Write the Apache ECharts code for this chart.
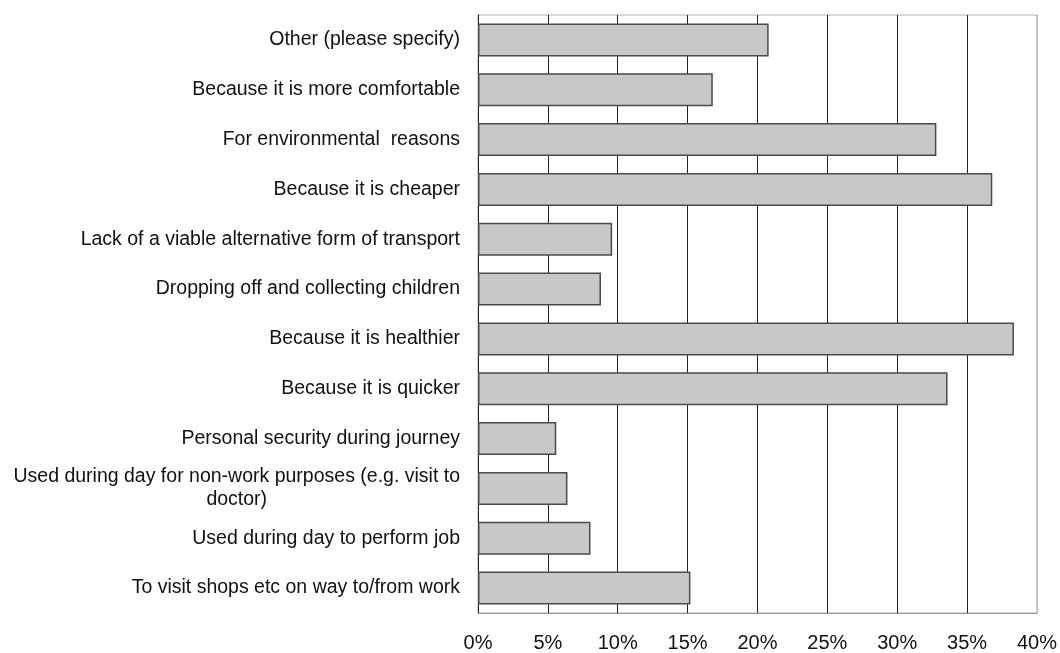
<!DOCTYPE html>
<html>
<head>
<meta charset="utf-8">
<script src="https://cdn.jsdelivr.net/npm/echarts@6/dist/echarts.min.js"></script>
<style>
html,body{margin:0;padding:0;background:#fff;}
#chart{width:1060px;height:653px;}
</style>
</head>
<body>
<div id="chart"></div>
<script>
var categories = [
  "Other (please specify)",
  "Because it is more comfortable",
  "For environmental  reasons",
  "Because it is cheaper",
  "Lack of a viable alternative form of transport",
  "Dropping off and collecting children",
  "Because it is healthier",
  "Because it is quicker",
  "Personal security during journey",
  "Used during day for non-work purposes (e.g. visit to\ndoctor)",
  "Used during day to perform job",
  "To visit shops etc on way to/from work"
];
var values = [20.8, 16.8, 32.8, 36.8, 9.6, 8.8, 38.35, 33.6, 5.6, 6.4, 8.05, 15.2];
var xTicks = [0, 5, 10, 15, 20, 25, 30, 35, 40];

var FONT = "'Liberation Sans', Arial, sans-serif";
var chart = echarts.init(document.getElementById('chart'), null, {renderer: 'canvas'});
var gridColors = xTicks.map(function (t, i) { return i === xTicks.length - 1 ? '#b0b0b0' : '#222222'; });

chart.setOption({
  animation: false,
  backgroundColor: '#ffffff',
  grid: {
    left: 478, right: 22, top: 15, bottom: 40,
    show: true, borderColor: '#b0b0b0', borderWidth: 1, backgroundColor: 'transparent'
  },
  xAxis: {
    type: 'value',
    min: xTicks[0],
    max: xTicks[xTicks.length - 1],
    interval: 5,
    axisLine: {show: true, lineStyle: {color: '#999999', width: 1}},
    axisTick: {show: false},
    axisLabel: {
      formatter: '{value}%',
      fontSize: 20,
      fontFamily: FONT,
      color: '#111111',
      margin: 20
    },
    splitLine: {show: true, lineStyle: {color: gridColors, width: 1}}
  },
  yAxis: {
    type: 'category',
    inverse: true,
    data: categories,
    axisLine: {show: true, lineStyle: {color: '#222222', width: 1}},
    axisTick: {show: false},
    splitLine: {show: false},
    axisLabel: {
      fontSize: 19.5,
      fontFamily: FONT,
      color: '#111111',
      margin: 18,
      lineHeight: 23,
      formatter: function (v) {
        var parts = v.split('\n');
        if (parts.length === 1) return '{a|' + v + '}';
        return '{a|' + parts[0] + '}\n{b|' + parts[1] + '}';
      },
      rich: {
        a: {fontSize: 19.5, fontFamily: FONT, color: '#111111', lineHeight: 23},
        b: {fontSize: 19.5, fontFamily: FONT, color: '#111111', lineHeight: 23, align: 'center'}
      }
    }
  },
  series: [{
    type: 'bar',
    data: values,
    barWidth: 33,
    itemStyle: {color: '#c8c8c8', borderColor: '#4a4a4a', borderWidth: 1.5}
  }]
});
</script>
</body>
</html>
